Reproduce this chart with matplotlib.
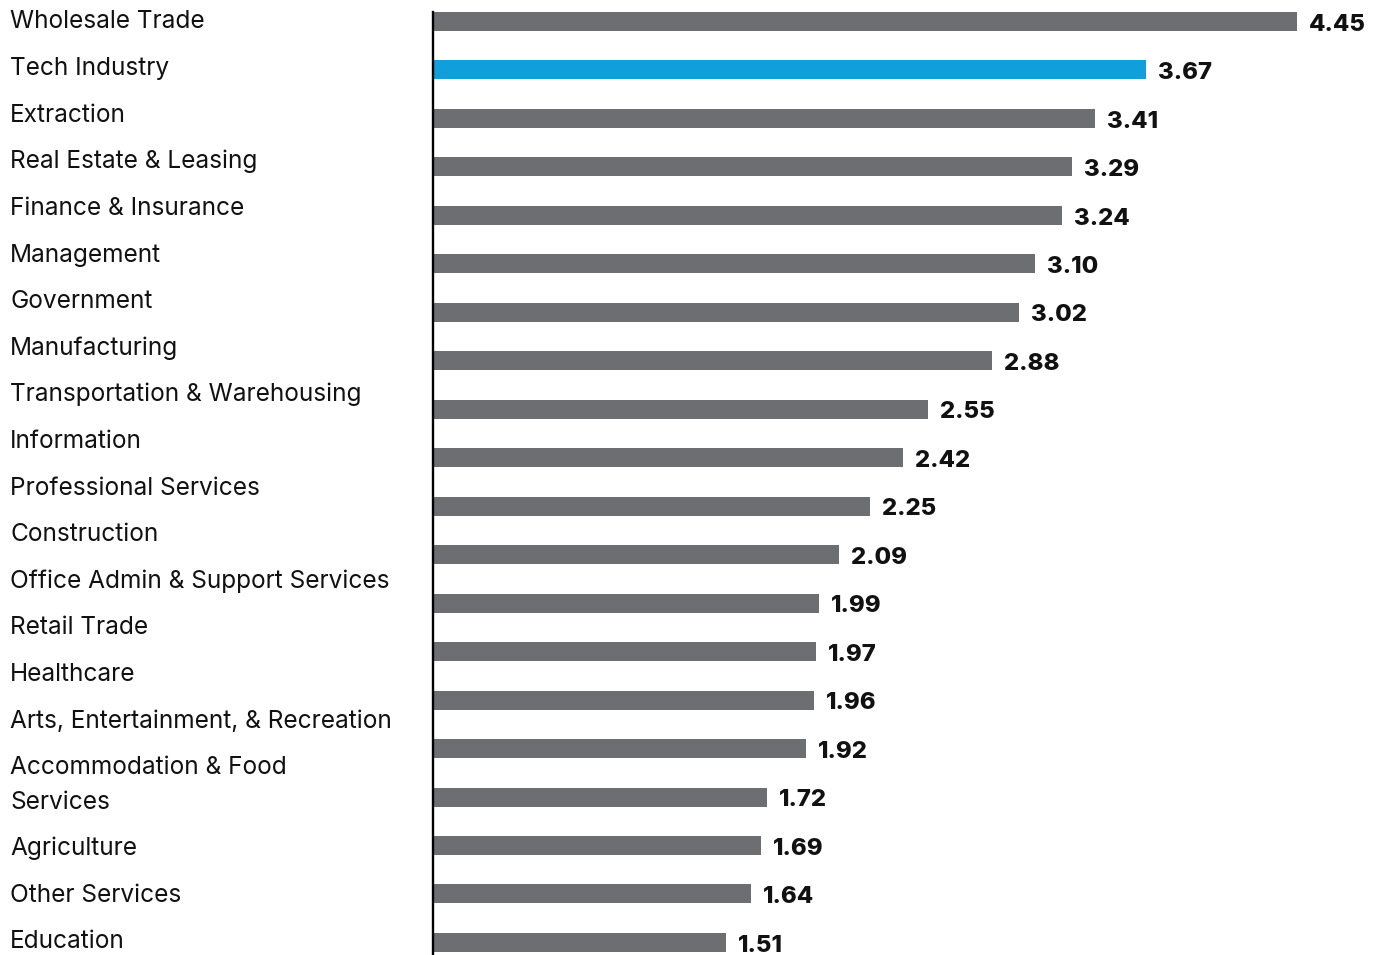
import matplotlib.pyplot as plt
import numpy as np

# Average ratio by industry
industries = [
    "Wholesale Trade", "Tech Industry", "Extraction", "Real Estate & Leasing",
    "Finance & Insurance", "Management", "Government", "Manufacturing",
    "Transportation & Warehousing", "Information", "Professional Services",
    "Construction", "Office Admin & Support Services", "Retail Trade",
    "Healthcare", "Arts, Entertainment, & Recreation",
    "Accommodation & Food\nServices", "Agriculture", "Other Services", "Education",
]
values = [4.45, 3.67, 3.41, 3.29, 3.24, 3.10, 3.02, 2.88, 2.55, 2.42,
          2.25, 2.09, 1.99, 1.97, 1.96, 1.92, 1.72, 1.69, 1.64, 1.51]
highlight = "Tech Industry"

GRAY = "#6d6e71"
BLUE = "#109fda"

plt.rcParams['font.family'] = ['Inter', 'DejaVu Sans']

W, H, DPI = 1375, 955, 100
fig = plt.figure(figsize=(W / DPI, H / DPI), dpi=DPI)

# layout in pixels
row_px = 48.47
bar_px = 19
first_center = 21.5
ax_left = 433
px_per_unit = 194.2
top_px = first_center - bar_px / 2

ax = fig.add_axes([ax_left / W, 0, (W - ax_left) / W, (H - top_px) / H])
n = len(industries)
ypos = np.arange(n)
bar_h = bar_px / row_px
colors = [BLUE if name == highlight else GRAY for name in industries]
ax.barh(ypos, values, height=bar_h, color=colors, left=0)

ax.set_ylim((H - first_center) / row_px, -bar_h / 2)
ax.set_xlim(0, (W - ax_left) / px_per_unit)

for s in ("top", "right", "bottom"):
    ax.spines[s].set_visible(False)
ax.spines["left"].set_linewidth(1.7)
ax.spines["left"].set_color("black")
ax.set_xticks([])
ax.set_yticks([])

# value labels
for y, v in zip(ypos, values):
    ax.annotate(f"{v:.2f}", xy=(v, y), xytext=(8.6, -6.6),
                textcoords="offset points", ha="left", va="baseline",
                fontsize=17.2, fontweight="heavy", color="#111111")

# category labels, stacked as paragraphs on the left
row_step = 46.6
line_step = 34.4
baseline = 28.5
for name in industries:
    lines = name.split("\n")
    for j, line in enumerate(lines):
        fig.text(10 / W, 1 - (baseline + j * line_step) / H, line,
                 ha="left", va="baseline", fontsize=17.6, color="#111111")
    baseline += row_step + (len(lines) - 1) * line_step

fig.savefig("out.png", dpi=DPI)
